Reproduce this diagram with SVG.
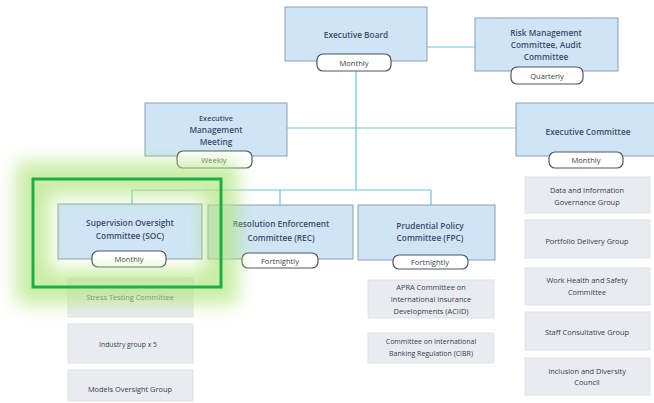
<svg xmlns="http://www.w3.org/2000/svg" width="654" height="403" viewBox="0 0 654 403">
  <defs>
    <style>
      .node { fill: #cfe5f6; stroke: #8d9bb1; stroke-width: 1; }
      .pill { fill: #ffffff; stroke: #4f5663; stroke-width: 1.2; }
      .sub { fill: #e8ecf0; stroke: #dde2e7; stroke-width: 1; }
      .lbl { font-family: "Open Sans", "Liberation Sans", sans-serif; font-weight: 600; font-size: 8.3px; fill: #3e4a6a; text-anchor: middle; }
      .freq { font-family: "Open Sans", "Liberation Sans", sans-serif; font-size: 7.6px; fill: #3a3f48; text-anchor: middle; }
      .stxt { font-family: "Open Sans", "Liberation Sans", sans-serif; font-size: 7.4px; fill: #363c4a; text-anchor: middle; }
      .conn { fill: none; stroke: #6cc3df; stroke-width: 1.2; }
    </style>
    <filter id="soft" x="-40%" y="-40%" width="180%" height="180%">
      <feGaussianBlur stdDeviation="9"/>
    </filter>
  </defs>

  <rect width="654" height="403" fill="#ffffff"/>

  <!-- connectors -->
  <g id="connectors" class="conn">
    <path d="M427 47 H475"/>
    <path d="M356 71 V190"/>
    <path d="M287 128 H516"/>
    <path d="M132 190 H431"/>
    <path d="M132 190 V204"/>
    <path d="M280 190 V205"/>
    <path d="M431 190 V205"/>
  </g>

  <!-- top level -->
  <g id="executive-board">
    <rect class="node" x="285" y="7" width="142" height="54"/>
    <text class="lbl" x="356" y="38">Executive Board</text>
    <rect class="pill" x="317" y="54" width="74" height="17" rx="6"/>
    <text class="freq" x="354" y="65.5">Monthly</text>
  </g>

  <g id="risk-audit">
    <rect class="node" x="475" y="18" width="143" height="53"/>
    <text class="lbl" x="546" y="36">Risk Management</text>
    <text class="lbl" x="546" y="48">Committee, Audit</text>
    <text class="lbl" x="546" y="60">Committee</text>
    <rect class="pill" x="511" y="67" width="72" height="17" rx="6"/>
    <text class="freq" x="547" y="78.5">Quarterly</text>
  </g>

  <g id="executive-management-meeting">
    <rect class="node" x="145" y="103" width="142" height="53"/>
    <text class="lbl" x="216" y="121" style="font-size:7.4px">Executive</text>
    <text class="lbl" x="216" y="133">Management</text>
    <text class="lbl" x="216" y="145">Meeting</text>
    <rect class="pill" x="177" y="151" width="75" height="17" rx="6"/>
    <text class="freq" x="214" y="162.5" style="fill:#4a5a3a">Weekly</text>
  </g>

  <g id="executive-committee">
    <rect class="node" x="516" y="103" width="145" height="53"/>
    <text class="lbl" x="588" y="135">Executive Committee</text>
    <rect class="pill" x="549" y="152" width="74" height="16" rx="6"/>
    <text class="freq" x="586" y="163">Monthly</text>
  </g>

  <!-- committees -->
  <g id="soc">
    <rect class="node" x="58" y="204" width="144" height="55"/>
    <text class="lbl" x="130" y="226">Supervision Oversight</text>
    <text class="lbl" x="130" y="239">Committee (SOC)</text>
    <rect class="pill" x="92" y="251" width="74" height="16" rx="6"/>
    <text class="freq" x="129" y="262">Monthly</text>
  </g>

  <g id="rec">
    <rect class="node" x="208" y="205" width="145" height="54"/>
    <text class="lbl" x="281" y="227">Resolution Enforcement</text>
    <text class="lbl" x="281" y="241">Committee (REC)</text>
    <rect class="pill" x="242" y="253" width="76" height="15" rx="6"/>
    <text class="freq" x="280" y="263.5">Fortnightly</text>
  </g>

  <g id="ppc">
    <rect class="node" x="358" y="205" width="137" height="55"/>
    <text class="lbl" x="430" y="229">Prudential Policy</text>
    <text class="lbl" x="430" y="241">Committee (FPC)</text>
    <rect class="pill" x="393" y="255" width="75" height="14" rx="6"/>
    <text class="freq" x="430" y="264.8">Fortnightly</text>
  </g>

  <!-- sub-groups under SOC -->
  <g id="stress-testing">
    <rect class="sub" x="68" y="278" width="125" height="39"/>
    <text class="stxt" x="130" y="300">Stress Testing Committee</text>
  </g>
  <g id="industry-group">
    <rect class="sub" x="68" y="324" width="125" height="39"/>
    <text class="stxt" x="128" y="347" style="font-size:6.8px">Industry group x 5</text>
  </g>
  <g id="models-oversight">
    <rect class="sub" x="68" y="370" width="125" height="31"/>
    <text class="stxt" x="130" y="392">Models Oversight Group</text>
  </g>

  <!-- sub-groups under PPC -->
  <g id="aciid">
    <rect class="sub" x="368" y="280" width="126" height="38"/>
    <text class="stxt" x="431" y="290">APRA Committee on</text>
    <text class="stxt" x="431" y="302">International Insurance</text>
    <text class="stxt" x="431" y="314">Developments (ACIID)</text>
  </g>
  <g id="cibr">
    <rect class="sub" x="368" y="333" width="126" height="30"/>
    <text class="stxt" x="431" y="344" style="font-size:7px">Committee on International</text>
    <text class="stxt" x="431" y="356" style="font-size:7px">Banking Regulation (CIBR)</text>
  </g>

  <!-- sub-groups under Executive Committee -->
  <g id="data-governance">
    <rect class="sub" x="525" y="177" width="125" height="36"/>
    <text class="stxt" x="587" y="193">Data and Information</text>
    <text class="stxt" x="587" y="205">Governance Group</text>
  </g>
  <g id="portfolio-delivery">
    <rect class="sub" x="525" y="220" width="125" height="38"/>
    <text class="stxt" x="587" y="244">Portfolio Delivery Group</text>
  </g>
  <g id="whs">
    <rect class="sub" x="525" y="268" width="125" height="37"/>
    <text class="stxt" x="587" y="283">Work Health and Safety</text>
    <text class="stxt" x="587" y="295">Committee</text>
  </g>
  <g id="staff-consultative">
    <rect class="sub" x="525" y="312" width="125" height="38"/>
    <text class="stxt" x="587" y="335">Staff Consultative Group</text>
  </g>
  <g id="inclusion-diversity">
    <rect class="sub" x="525" y="358" width="125" height="37"/>
    <text class="stxt" x="587" y="374">Inclusion and Diversity</text>
    <text class="stxt" x="587" y="385">Council</text>
  </g>

  <!-- highlight around SOC -->
  <g id="highlight">
    <rect x="33" y="179" width="188" height="108" fill="none" stroke="#b2e67e" stroke-width="34" opacity="0.7" filter="url(#soft)"/>
    <rect x="33" y="179" width="188" height="108" fill="none" stroke="#1cae48" stroke-width="3"/>
  </g>
</svg>
